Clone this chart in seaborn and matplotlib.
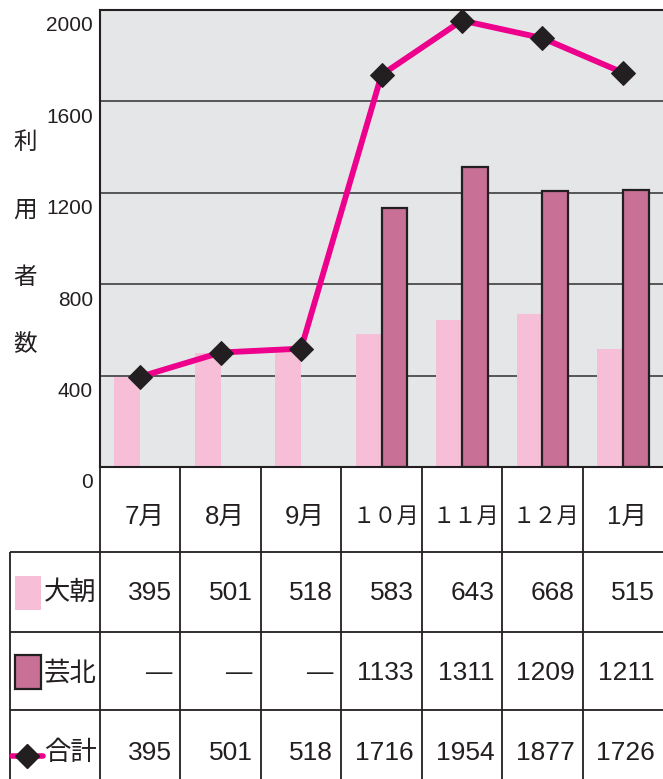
import numpy as np
import pandas as pd
import matplotlib.pyplot as plt
import seaborn as sns
from matplotlib.patches import Rectangle
from matplotlib.colors import to_rgba

months = ["7月", "8月", "9月", "１０月", "１１月", "１２月", "1月"]
oasa = [395, 501, 518, 583, 643, 668, 515]
geihoku = [np.nan, np.nan, np.nan, 1133, 1311, 1209, 1211]
total = [395, 501, 518, 1716, 1954, 1877, 1726]
series_names = ["大朝", "芸北", "合計"]
yticks = [0, 400, 800, 1200, 1600, 2000]
ylabel_chars = ["利", "用", "者", "数"]

LIGHT = "#F6BED7"
DARK = "#C87096"
MAGENTA = "#EC008C"
INK = "#231F20"
BG = "#E5E6E8"
GRID = "#4A4A4A"

sns.set_style("white")
# latin digits from Liberation, kanji / full-width digits from Noto CJK
plt.rcParams["font.family"] = ["Liberation Sans", "Noto Sans CJK JP", "DejaVu Sans"]

W, H = 663, 779
fig = plt.figure(figsize=(W / 100, H / 100), dpi=100)

# main plot area in pixels
ax_l, ax_b, ax_t = 100, 467, 10
ax = fig.add_axes([ax_l / W, 1 - ax_b / H, 1 - ax_l / W, (ax_b - ax_t) / H])
ax.set_facecolor(BG)

df = pd.DataFrame({
    "month": months * 2,
    "series": [series_names[0]] * len(months) + [series_names[1]] * len(months),
    "value": oasa + geihoku,
})
sns.barplot(data=df, x="month", y="value", hue="series", order=months,
            hue_order=series_names[:2], palette=[LIGHT, DARK], width=0.64,
            saturation=1, errorbar=None, legend=False, ax=ax)

# outline only the dark bars
for p in ax.patches:
    if np.allclose(p.get_facecolor(), to_rgba(DARK)):
        p.set_edgecolor(INK)
        p.set_linewidth(1.6)
    else:
        p.set_linewidth(0)

sns.lineplot(x=np.arange(len(months)), y=total, color=MAGENTA, linewidth=4.2,
             marker="D", markersize=12, markerfacecolor=INK, markeredgecolor=INK,
             ax=ax, zorder=5)

ax.set_xlim(-0.5, len(months) - 0.5)
ax.set_ylim(0, 2000)
ax.set_yticks(yticks)
ax.set_yticklabels([])
ax.set_xticks([])
ax.tick_params(length=0)
ax.yaxis.grid(True, color=GRID, linewidth=1.3)
ax.set_axisbelow(True)
ax.set_xlabel("")
ax.set_ylabel("")
for side in ["left", "bottom", "top"]:
    ax.spines[side].set_color(INK)
    ax.spines[side].set_linewidth(1.5)
ax.spines["right"].set_visible(False)

# tick labels sit a little below their gridlines in the original
for v in yticks:
    ax.annotate(f"{v}", xy=(0, v), xycoords=("axes fraction", "data"),
                xytext=(-5, -11.5), textcoords="offset points",
                ha="right", va="center", fontsize=15, color=INK,
                annotation_clip=False)

# vertical y label
for i, ch in enumerate(ylabel_chars):
    fig.text(25 / W, 1 - (143 + 67.3 * i) / H, ch, ha="center", va="center",
             fontsize=17, color=INK)

# ---- data table under the chart ----
u = (W - ax_l) / len(months)


def px(xp):
    return -0.5 + (xp - ax_l) / u


tab = fig.add_axes([0, 0, 1, 1 - ax_b / H])
tab.set_xlim(px(0), len(months) - 0.5)
tab.set_ylim(H - ax_b, 0)
tab.axis("off")

row_edges = [0, 85, 165, 243]
row_mid = [126, 206, 286]
bounds = np.arange(len(months)) - 0.5
tab.vlines(bounds, 0, H - ax_b, color=INK, lw=1.3)
tab.vlines(px(10), row_edges[1], H - ax_b, color=INK, lw=1.3)
tab.hlines(row_edges[1:], px(10), len(months) - 0.5, color=INK, lw=1.3)

for i, m in enumerate(months):
    wide = len(m) > 2  # full-width two-digit months are set smaller
    tab.text(i + 4 / u, 50, m, ha="center", va="center",
             fontsize=16 if wide else 18.5, color=INK)

for yc, vals in zip(row_mid, [oasa, geihoku, total]):
    for i, v in enumerate(vals):
        s = "—" if np.isnan(v) else f"{int(v)}"
        tab.text(i + 0.5 - 8 / u, yc, s, ha="right", va="center",
                 fontsize=19, color=INK)

for yc, name in zip(row_mid, series_names):
    tab.text(px(44), yc, name, ha="left", va="center", fontsize=19, color=INK)

# legend keys
tab.add_patch(Rectangle((px(15), 109), px(41) - px(15), 34, facecolor=LIGHT,
                        edgecolor="none"))
tab.add_patch(Rectangle((px(15), 188), px(41) - px(15), 34, facecolor=DARK,
                        edgecolor=INK, lw=1.6))
tab.plot([px(12), px(43)], [289, 289], color=MAGENTA, lw=4)
tab.plot([px(27)], [289], marker="D", ms=12, color=INK, ls="none")

fig.savefig("out.png", dpi=100)
